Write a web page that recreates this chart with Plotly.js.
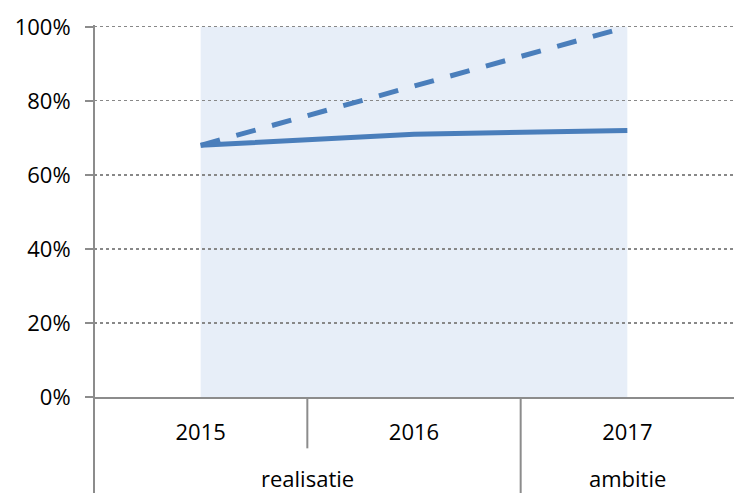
<!DOCTYPE html>
<html>
<head>
<meta charset="utf-8">
<script src="https://cdn.plot.ly/plotly-3.0.1.min.js"></script>
<style>html,body{margin:0;padding:0;background:#fff;}#chart{width:734px;height:493px;}</style>
</head>
<body>
<div id="chart"></div>
<script>
const years = ['2015', '2016', '2017'];
const groups = ['realisatie', 'realisatie', 'ambitie'];
const realised = [68, 71, 72];
const ambition = [68, 84, 100];
const yTicks = [0, 20, 40, 60, 80, 100];
const yTickLabels = ['0%', '20%', '40%', '60%', '80%', '100%'];

const xIdx = years.map((_, i) => i);
const lineColor = '#4a7ebb';
const axisColor = '#8c8c8c';

const traces = [
  { x: xIdx, y: ambition, mode: 'lines', line: { color: lineColor, width: 5, dash: '20px,17px' }, hoverinfo: 'skip' },
  { x: xIdx, y: realised, mode: 'lines', line: { color: lineColor, width: 5 }, hoverinfo: 'skip' }
];

const groupRuns = [];
groups.forEach((g, i) => {
  const last = groupRuns[groupRuns.length - 1];
  if (last && last.name === g) last.end = i; else groupRuns.push({ name: g, start: i, end: i });
});

const shapes = [
  { type: 'rect', xref: 'x', yref: 'y', x0: 0, x1: years.length - 1, y0: 0, y1: 100, fillcolor: '#e7eef8', line: { width: 0 }, layer: 'below' },
  { type: 'line', xref: 'paper', yref: 'paper', x0: 0, x1: 0, y0: 1, y1: -0.26, line: { color: axisColor, width: 2 } },
  { type: 'line', xref: 'x', yref: 'paper', x0: 0.5, x1: 0.5, y0: 0, y1: -0.138, line: { color: axisColor, width: 2 } },
  { type: 'line', xref: 'x', yref: 'paper', x0: 1.5, x1: 1.5, y0: 0, y1: -0.26, line: { color: axisColor, width: 2 } }
];

const annotations = groupRuns.map(r => ({
  text: r.name, xref: 'x', yref: 'paper', x: (r.start + r.end) / 2, y: -0.218,
  showarrow: false, yanchor: 'middle', font: { size: 22, color: '#000' }
}));

const layout = {
  width: 734, height: 493,
  margin: { l: 94, r: 0, t: 25, b: 96 },
  paper_bgcolor: '#fff', plot_bgcolor: 'rgba(0,0,0,0)',
  showlegend: false,
  font: { family: '"Open Sans", sans-serif', size: 22, color: '#000' },
  xaxis: {
    range: [-0.5, years.length - 0.5], tickvals: xIdx, ticktext: years,
    showgrid: false, zeroline: false, showline: true, linecolor: axisColor, linewidth: 2,
    ticks: '', ticklabelstandoff: 15, fixedrange: true, tickfont: { size: 22, color: '#000' }
  },
  yaxis: {
    range: [0, 100.5], tickvals: yTicks, ticktext: yTickLabels,
    showgrid: true, gridcolor: '#888888', griddash: 'dot', gridwidth: 1.2,
    zeroline: false, showline: false,
    ticks: 'outside', ticklen: 8, tickcolor: axisColor, tickwidth: 2,
    ticklabelstandoff: 10, tickfont: { size: 22, color: '#000' }, fixedrange: true
  },
  shapes: shapes,
  annotations: annotations
};

Plotly.newPlot('chart', traces, layout, { displayModeBar: false, staticPlot: true });
</script>
</body>
</html>
